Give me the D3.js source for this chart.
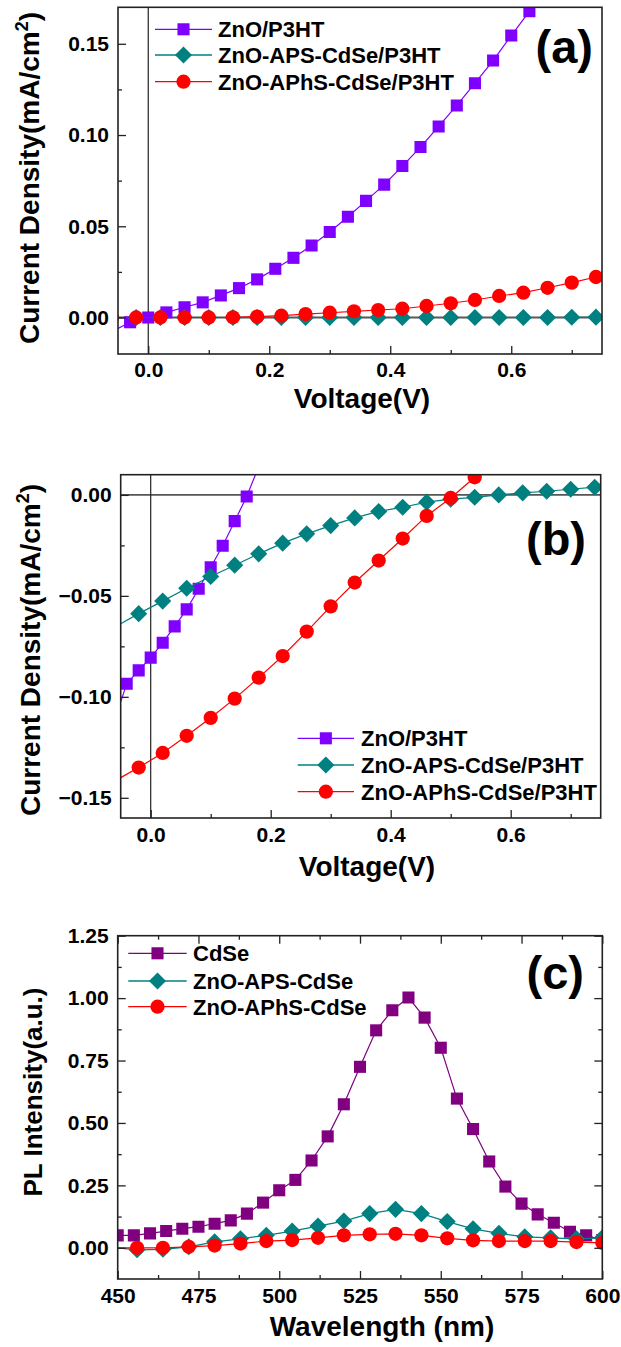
<!DOCTYPE html>
<html>
<head>
<meta charset="utf-8">
<script src="https://cdn.jsdelivr.net/npm/d3@7"></script>
<style>
  body { margin: 0; background: #fff; }
  svg text { font-family: "Liberation Sans", Arial, sans-serif; font-weight: bold; fill: #000; }
</style>
</head>
<body>
<div id="chart"></div>
<script>
// ---- panel (a): dark J-V ----
var aSqV   = [-0.03, 0.00, 0.03, 0.06, 0.09, 0.12, 0.15, 0.18, 0.21, 0.24, 0.27, 0.30, 0.33, 0.36, 0.39, 0.42, 0.45, 0.48, 0.51, 0.54, 0.57, 0.60, 0.63];
var aZnO   = [-0.0026, 0.0000, 0.0028, 0.0056, 0.0083, 0.0121, 0.0161, 0.0209, 0.0267, 0.0327, 0.0395, 0.0469, 0.0552, 0.0639, 0.0728, 0.0830, 0.0934, 0.1047, 0.1162, 0.1284, 0.1408, 0.1545, 0.1678];
var aV     = [-0.02, 0.02, 0.06, 0.10, 0.14, 0.18, 0.22, 0.26, 0.30, 0.34, 0.38, 0.42, 0.46, 0.50, 0.54, 0.58, 0.62, 0.66, 0.70, 0.74];
var aAps   = [0.0000, 0.0000, 0.0000, 0.0000, 0.0000, 0.0000, 0.0000, 0.0000, 0.0000, 0.0000, 0.0000, 0.0000, 0.0000, 0.0000, 0.0000, 0.0000, 0.0000, 0.0000, 0.0001, 0.0002];
var aCirV  = [-0.06, -0.02, 0.02, 0.06, 0.10, 0.14, 0.18, 0.22, 0.26, 0.30, 0.34, 0.38, 0.42, 0.46, 0.50, 0.54, 0.58, 0.62, 0.66, 0.70, 0.74];
var aAphs  = [0.0000, 0.0000, 0.0000, 0.0000, 0.0000, 0.0001, 0.0005, 0.0010, 0.0019, 0.0026, 0.0034, 0.0041, 0.0048, 0.0063, 0.0078, 0.0096, 0.0118, 0.0136, 0.0163, 0.0191, 0.0222];

// ---- panel (b): illuminated J-V ----
var bSqV   = [-0.04, -0.02, 0.00, 0.02, 0.04, 0.06, 0.08, 0.10, 0.12, 0.14, 0.16];
var bZnO   = [-0.0935, -0.0869, -0.0806, -0.0732, -0.0651, -0.0567, -0.0465, -0.0358, -0.0252, -0.0130, -0.0008];
var bV     = [-0.02, 0.02, 0.06, 0.10, 0.14, 0.18, 0.22, 0.26, 0.30, 0.34, 0.38, 0.42, 0.46, 0.50, 0.54, 0.58, 0.62, 0.66, 0.70, 0.74];
var bAps   = [-0.0588, -0.0526, -0.0462, -0.0404, -0.0348, -0.0292, -0.0239, -0.0193, -0.0152, -0.0114, -0.0082, -0.0061, -0.0036, -0.0021, -0.0012, 0.0000, 0.0010, 0.0018, 0.0028, 0.0038];
var bCirV  = [-0.02, 0.02, 0.06, 0.10, 0.14, 0.18, 0.22, 0.26, 0.30, 0.34, 0.38, 0.42, 0.46, 0.50, 0.54];
var bAphs  = [-0.1350, -0.1278, -0.1193, -0.1104, -0.1009, -0.0905, -0.0798, -0.0677, -0.0552, -0.0434, -0.0325, -0.0216, -0.0104, -0.0015, 0.0087];

// ---- panel (c): PL spectra ----
var cSqW   = [450, 455, 460, 465, 470, 475, 480, 485, 490, 495, 500, 505, 510, 515, 520, 525, 530, 535, 540, 545, 550, 555, 560, 565, 570, 575, 580, 585, 590, 595, 600];
var cCdSe  = [0.0496, 0.0496, 0.0576, 0.0670, 0.0764, 0.0844, 0.0965, 0.1099, 0.1367, 0.1809, 0.2304, 0.2720, 0.3497, 0.4462, 0.5748, 0.7248, 0.8709, 0.9513, 1.0022, 0.9218, 0.8012, 0.5976, 0.4756, 0.3457, 0.2452, 0.1769, 0.1340, 0.1005, 0.0643, 0.0496, 0.0308];
var cW     = [456, 464, 472, 480, 488, 496, 504, 512, 520, 528, 536, 544, 552, 560, 568, 576, 584, 592, 600];
var cAps   = [-0.008, -0.006, 0.004, 0.024, 0.036, 0.050, 0.067, 0.087, 0.107, 0.137, 0.154, 0.137, 0.105, 0.076, 0.058, 0.044, 0.040, 0.036, 0.040];
var cAphs  = [0.000, 0.000, 0.004, 0.009, 0.017, 0.027, 0.031, 0.040, 0.050, 0.054, 0.056, 0.050, 0.038, 0.030, 0.027, 0.027, 0.027, 0.023, 0.020];

// ---- names and ticks ----
var jvNames = ["ZnO/P3HT", "ZnO-APS-CdSe/P3HT", "ZnO-APhS-CdSe/P3HT"];
var plNames = ["CdSe", "ZnO-APS-CdSe", "ZnO-APhS-CdSe"];
var vTicks = [0.0, 0.2, 0.4, 0.6];
var vMinor = [0.1, 0.3, 0.5, 0.7];
var aYTicks = [0.00, 0.05, 0.10, 0.15];
var aYMinor = [0.025, 0.075, 0.125];
var bYTicks = [0.00, -0.05, -0.10, -0.15];
var bYMinor = [-0.025, -0.075, -0.125];
var wTicks = [450, 475, 500, 525, 550, 575, 600];
var wMinor = [462.5, 487.5, 512.5, 537.5, 562.5, 587.5];
var cYTicks = [0.00, 0.25, 0.50, 0.75, 1.00, 1.25];
var cYMinor = [0.125, 0.375, 0.625, 0.875, 1.125];

var violet = "#8000ff", teal = "#008080", red = "#ff0000", purple = "#800080";

var svg = d3.select("#chart").append("svg")
  .attr("width", 621)
  .attr("height", 1347);

function zip(xs, ys) {
  return xs.map(function(d, i) { return [d, ys[i]]; });
}

function symbolPath(kind) {
  if (kind == "circle") return d3.symbol(d3.symbolCircle, 160)();
  return d3.symbol(d3.symbolSquare, 146)();
}

function drawPanel(p) {
  var x = d3.scaleLinear().domain(p.xDomain).range([p.left, p.right]);
  var y = d3.scaleLinear().domain(p.yDomain).range([p.bottom, p.top]);
  var g = svg.append("g");

  g.append("clipPath").attr("id", "clip-" + p.id)
    .append("rect")
    .attr("x", p.left).attr("y", p.top)
    .attr("width", p.right - p.left).attr("height", p.bottom - p.top);

  // zero reference lines
  if (p.zeroLines) {
    g.append("line")
      .attr("x1", p.left).attr("x2", p.right)
      .attr("y1", y(0)).attr("y2", y(0))
      .attr("stroke", "#555").attr("stroke-width", 1.8);
    g.append("line")
      .attr("x1", x(0)).attr("x2", x(0))
      .attr("y1", p.top).attr("y2", p.bottom)
      .attr("stroke", "#222").attr("stroke-width", 1.2);
  }

  var plot = g.append("g").attr("clip-path", "url(#clip-" + p.id + ")");
  var line = d3.line().x(d => x(d[0])).y(d => y(d[1]));

  p.series.forEach(function(s) {
    var pts = zip(s.xs, s.ys);
    var linePts = (s.start ? [s.start] : []).concat(pts, s.end ? [s.end] : []);
    var sg = plot.append("g");
    sg.append("path")
      .datum(linePts)
      .attr("d", line)
      .attr("fill", "none")
      .attr("stroke", s.color)
      .attr("stroke-width", 1.2);
    sg.selectAll("path.mark")
      .data(pts)
      .enter()
      .append("path")
      .attr("class", "mark")
      .attr("d", symbolPath(s.shape))
      .attr("transform", d => `translate(${x(d[0])},${y(d[1])})` + (s.shape == "diamond" ? " rotate(45)" : ""))
      .attr("fill", s.color);
  });

  // axes, ticks inward
  function styleAxis(ax) {
    ax.select(".domain").remove();
    ax.selectAll("line").attr("stroke", "#222").attr("stroke-width", 1.3);
    ax.selectAll("text").style("font-size", "21px").attr("fill", "#000");
  }

  g.append("g")
    .attr("transform", `translate(0,${p.bottom})`)
    .call(d3.axisBottom(x).tickValues(p.xTicks).tickSize(-8).tickPadding(p.xPad).tickFormat(p.xFormat))
    .call(styleAxis);
  g.append("g")
    .attr("transform", `translate(0,${p.bottom})`)
    .call(d3.axisBottom(x).tickValues(p.xMinor).tickSize(-4).tickFormat(""))
    .call(styleAxis);
  g.append("g")
    .attr("transform", `translate(${p.left},0)`)
    .call(d3.axisLeft(y).tickValues(p.yTicks).tickSize(-8).tickPadding(9).tickFormat(d3.format(".2f")))
    .call(styleAxis);
  g.append("g")
    .attr("transform", `translate(${p.left},0)`)
    .call(d3.axisLeft(y).tickValues(p.yMinor).tickSize(-4).tickFormat(""))
    .call(styleAxis);

  if (p.mirror) {
    g.append("g")
      .attr("transform", `translate(0,${p.top})`)
      .call(d3.axisTop(x).tickValues(p.xTicks).tickSize(-8).tickFormat(""))
      .call(styleAxis);
    g.append("g")
      .attr("transform", `translate(0,${p.top})`)
      .call(d3.axisTop(x).tickValues(p.xMinor).tickSize(-4).tickFormat(""))
      .call(styleAxis);
    g.append("g")
      .attr("transform", `translate(${p.right},0)`)
      .call(d3.axisRight(y).tickValues(p.yTicks).tickSize(-8).tickFormat(""))
      .call(styleAxis);
    g.append("g")
      .attr("transform", `translate(${p.right},0)`)
      .call(d3.axisRight(y).tickValues(p.yMinor).tickSize(-4).tickFormat(""))
      .call(styleAxis);
  }

  // frame
  g.append("rect")
    .attr("x", p.left).attr("y", p.top)
    .attr("width", p.right - p.left).attr("height", p.bottom - p.top)
    .attr("fill", "none").attr("stroke", "#222").attr("stroke-width", 1.6);

  // axis titles
  g.append("text")
    .attr("x", p.xTitleX).attr("y", p.xTitleY)
    .attr("text-anchor", "middle")
    .style("font-size", "28px")
    .text(p.xTitle);

  var yt = g.append("text")
    .attr("transform", `translate(${p.yTitleX},${p.yTitleY}) rotate(-90)`)
    .attr("text-anchor", "middle")
    .style("font-size", p.yTitleSize + "px");
  yt.append("tspan").text(p.yTitle);
  if (p.yTitleSup) {
    yt.append("tspan").attr("dy", -11).style("font-size", "18px").text(p.yTitleSup);
    yt.append("tspan").attr("dy", 11).text(")");
  }

  // legend
  p.series.forEach(function(s, i) {
    var ly = p.legY[i];
    var lg = g.append("g");
    lg.append("line")
      .attr("x1", p.legX1).attr("x2", p.legX2)
      .attr("y1", ly).attr("y2", ly)
      .attr("stroke", s.color).attr("stroke-width", 1.3);
    lg.append("path")
      .attr("d", symbolPath(s.shape))
      .attr("transform", `translate(${(p.legX1 + p.legX2) / 2},${ly})` + (s.shape == "diamond" ? " rotate(45)" : ""))
      .attr("fill", s.color);
    lg.append("text")
      .attr("x", p.legTextX).attr("y", ly)
      .attr("dy", "0.36em")
      .style("font-size", "22px")
      .text(p.names[i]);
  });

  // panel tag
  g.append("text")
    .attr("x", p.tagX).attr("y", p.tagY)
    .attr("text-anchor", "end")
    .style("font-size", "47px")
    .text(p.tag);
}

drawPanel({
  id: "a", left: 118, right: 602, top: 7.3, bottom: 354,
  xDomain: [-0.05, 0.75], yDomain: [-0.02, 0.17],
  xTicks: vTicks, xMinor: vMinor, yTicks: aYTicks, yMinor: aYMinor,
  xFormat: d3.format(".1f"), xPad: 8.5, zeroLines: true, mirror: false,
  series: [
    { xs: aSqV, ys: aZnO, color: violet, shape: "square", start: [-0.05, -0.006], end: [0.66, 0.182] },
    { xs: aV, ys: aAps, color: teal, shape: "diamond", start: [-0.05, 0], end: [0.75, 0.0002] },
    { xs: aCirV, ys: aAphs, color: red, shape: "circle", end: [0.75, 0.0230] }
  ],
  names: jvNames, legX1: 155, legX2: 212, legTextX: 218, legY: [29.3, 55, 81.7],
  tag: "(a)", tagX: 593, tagY: 63,
  xTitle: "Voltage(V)", xTitleX: 362, xTitleY: 408,
  yTitle: "Current Density(mA/cm", yTitleSup: "2", yTitleSize: 28, yTitleX: 39, yTitleY: 178
});

drawPanel({
  id: "b", left: 120.7, right: 600.7, top: 474.7, bottom: 818,
  xDomain: [-0.05, 0.75], yDomain: [-0.16, 0.01],
  xTicks: vTicks, xMinor: vMinor, yTicks: bYTicks, yMinor: bYMinor,
  xFormat: d3.format(".1f"), xPad: 9, zeroLines: true, mirror: false,
  series: [
    { xs: bSqV, ys: bZnO, color: violet, shape: "square", start: [-0.05, -0.1025], end: [0.18, 0.014] },
    { xs: bV, ys: bAps, color: teal, shape: "diamond", start: [-0.05, -0.0638], end: [0.75, 0.0040] },
    { xs: bCirV, ys: bAphs, color: red, shape: "circle", start: [-0.05, -0.1400] }
  ],
  names: jvNames, legX1: 297.7, legX2: 354, legTextX: 361, legY: [738.3, 765, 791.7],
  tag: "(b)", tagX: 586, tagY: 555,
  xTitle: "Voltage(V)", xTitleX: 367, xTitleY: 876,
  yTitle: "Current Density(mA/cm", yTitleSup: "2", yTitleSize: 28, yTitleX: 40, yTitleY: 650
});

drawPanel({
  id: "c", left: 117.7, right: 602.3, top: 935.7, bottom: 1279,
  xDomain: [450, 600], yDomain: [-0.125, 1.25],
  xTicks: wTicks, xMinor: wMinor, yTicks: cYTicks, yMinor: cYMinor,
  xFormat: d3.format("d"), xPad: 9, zeroLines: false, mirror: true,
  series: [
    { xs: cSqW, ys: cCdSe, color: purple, shape: "square" },
    { xs: cW, ys: cAps, color: teal, shape: "diamond", start: [450, 0.0] },
    { xs: cW, ys: cAphs, color: red, shape: "circle", start: [450, 0.0] }
  ],
  names: plNames, legX1: 128.3, legX2: 186.7, legTextX: 193, legY: [953.3, 981, 1006.7],
  tag: "(c)", tagX: 584, tagY: 989,
  xTitle: "Wavelength (nm)", xTitleX: 382, xTitleY: 1336,
  yTitle: "PL Intensity(a.u.)", yTitleSup: null, yTitleSize: 26, yTitleX: 42, yTitleY: 1092
});
</script>
</body>
</html>
